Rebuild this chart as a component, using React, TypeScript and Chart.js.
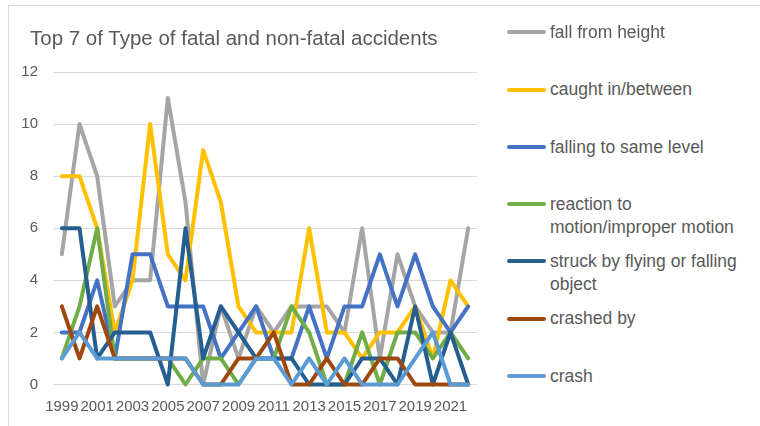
import React, { useEffect, useRef } from "react";
import { Chart, registerables } from "chart.js";

Chart.register(...registerables);

// ---- Data ----
const years = [
  "1999", "2000", "2001", "2002", "2003", "2004", "2005", "2006",
  "2007", "2008", "2009", "2010", "2011", "2012", "2013", "2014",
  "2015", "2016", "2017", "2018", "2019", "2020", "2021", "2022",
];

const fallFromHeight = [5, 10, 8, 3, 4, 4, 11, 7, 0, 3, 1, 3, 2, 3, 3, 3, 2, 6, 1, 5, 3, 2, 2, 6];
const caughtInBetween = [8, 8, 6, 2, 4, 10, 5, 4, 9, 7, 3, 2, 2, 2, 6, 2, 2, 1, 2, 2, 3, 1, 4, 3];
const fallingSameLevel = [2, 2, 4, 1, 5, 5, 3, 3, 3, 1, 2, 3, 1, 1, 3, 1, 3, 3, 5, 3, 5, 3, 2, 3];
const reactionToMotion = [1, 3, 6, 1, 1, 1, 1, 0, 1, 1, 0, 1, 1, 3, 2, 0, 0, 2, 0, 2, 2, 1, 2, 1];
const struckByObject = [6, 6, 1, 2, 2, 2, 0, 6, 1, 3, 2, 1, 1, 1, 0, 0, 0, 1, 1, 0, 3, 0, 2, 0];
const crashedBy = [3, 1, 3, 1, 1, 1, 1, 1, 0, 0, 1, 1, 2, 0, 0, 1, 0, 0, 1, 1, 0, 0, 0, 0];
const crash = [1, 2, 1, 1, 1, 1, 1, 1, 0, 0, 0, 1, 1, 0, 1, 0, 1, 0, 0, 0, 1, 2, 0, 0];

const seriesNames = [
  "fall from height",
  "caught in/between",
  "falling to same level",
  "reaction to motion/improper motion",
  "struck by flying or falling object",
  "crashed by",
  "crash",
];

const seriesColors = ["#A5A5A5", "#FFC000", "#4472C4", "#70AD47", "#255E91", "#9E480E", "#5B9BD5"];

const yMin = 0;
const yMax = 12;
const yStep = 2;

const chartTitle = "Top 7 of Type of fatal and non-fatal accidents";

const FONT = "'Liberation Sans', Arial, sans-serif";
const TEXT_COLOR = "#595959";

export default function App() {
  const canvasRef = useRef<HTMLCanvasElement | null>(null);

  useEffect(() => {
    const seriesData = [
      fallFromHeight,
      caughtInBetween,
      fallingSameLevel,
      reactionToMotion,
      struckByObject,
      crashedBy,
      crash,
    ];
    const chart = new Chart(canvasRef.current as HTMLCanvasElement, {
      type: "line",
      data: {
        labels: years,
        datasets: seriesData.map((d, i) => ({
          label: seriesNames[i],
          data: d,
          borderColor: seriesColors[i],
          backgroundColor: seriesColors[i],
          borderWidth: 4,
          pointRadius: 0,
          pointHoverRadius: 0,
          tension: 0,
          borderJoinStyle: "round" as const,
          borderCapStyle: "round" as const,
          clip: false as any,
          order: seriesData.length - i,
        })),
      },
      options: {
        animation: false,
        responsive: false,
        devicePixelRatio: 1,
        events: [],
        layout: { padding: { left: 0, top: 72, right: 23, bottom: 0 } },
        plugins: {
          legend: { display: false },
          title: { display: false },
          tooltip: { enabled: false },
        },
        scales: {
          x: {
            offset: true,
            grid: { display: false, drawTicks: false },
            border: { display: false },
            ticks: {
              autoSkip: false,
              maxRotation: 0,
              minRotation: 0,
              padding: 13,
              color: TEXT_COLOR,
              font: { family: FONT, size: 15 },
              callback: (_v: any, i: number) => (i % 2 === 0 ? years[i] : ""),
            },
            afterFit: (s: any) => {
              s.height = 41.5;
            },
          },
          y: {
            min: yMin,
            max: yMax,
            ticks: {
              stepSize: yStep,
              padding: 15,
              color: TEXT_COLOR,
              font: { family: FONT, size: 15 },
            },
            grid: { color: "#D9D9D9", lineWidth: 1, drawTicks: false },
            border: { display: false },
            afterFit: (s: any) => {
              s.width = 53;
            },
          },
        },
      },
    });
    return () => chart.destroy();
  }, []);

  const legendTop0 = 32.3;
  const legendGap = 57.3;
  const lineH = 22.7;

  return (
    <div
      style={{
        position: "absolute",
        left: 0,
        top: 0,
        width: 760,
        height: 426,
        overflow: "hidden",
        background: "#ffffff",
        fontFamily: FONT,
      }}
    >
      <div
        style={{
          position: "absolute",
          left: 8,
          top: 5,
          width: 800,
          height: 500,
          border: "1px solid #D9D9D9",
        }}
      />
      <canvas
        ref={canvasRef}
        width={500}
        height={426}
        style={{ position: "absolute", left: 0, top: 0, width: 500, height: 426 }}
      />
      <div
        style={{
          position: "absolute",
          left: 30,
          top: 26,
          fontSize: 20.5,
          lineHeight: "24px",
          color: TEXT_COLOR,
          whiteSpace: "nowrap",
        }}
      >
        {chartTitle}
      </div>
      {seriesNames.map((name, i) => {
        const words = name.split(" ");
        return (
          <div
            key={name}
            style={{
              position: "absolute",
              left: 507,
              top: legendTop0 + legendGap * i - lineH / 2,
              width: 250,
            }}
          >
            <div
              style={{
                position: "absolute",
                left: 0,
                top: lineH / 2 - 2,
                width: 39,
                height: 4,
                borderRadius: 2,
                background: seriesColors[i],
              }}
            />
            <div
              style={{
                position: "absolute",
                left: 43,
                top: 0,
                width: 200,
                fontSize: 17.5,
                lineHeight: `${lineH}px`,
                color: TEXT_COLOR,
              }}
            >
              {words.map((w, k) => (
                <React.Fragment key={k}>
                  <span style={{ whiteSpace: "nowrap" }}>{w}</span>
                  {k < words.length - 1 ? " " : ""}
                </React.Fragment>
              ))}
            </div>
          </div>
        );
      })}
    </div>
  );
}
